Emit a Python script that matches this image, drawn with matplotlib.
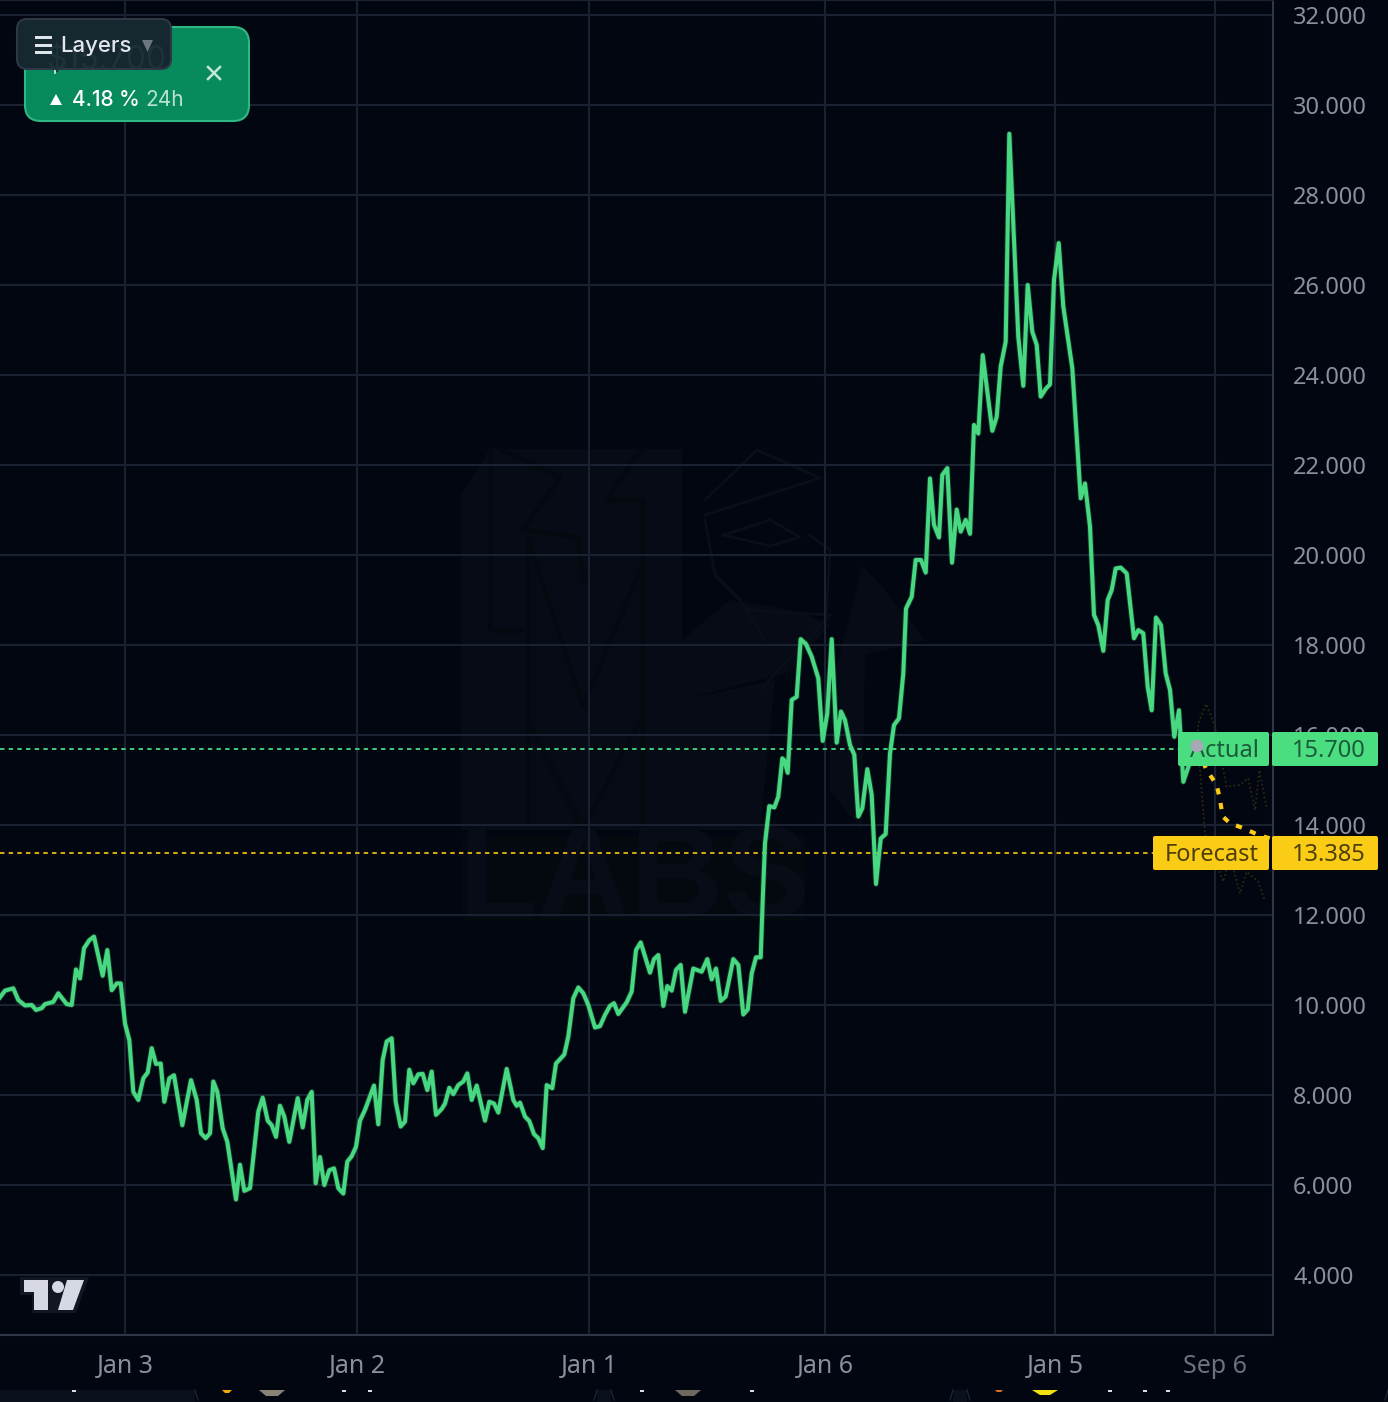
import matplotlib
matplotlib.use("Agg")
import matplotlib.pyplot as plt
from matplotlib.patches import FancyBboxPatch, Polygon, Circle, Rectangle
from matplotlib.ticker import FuncFormatter

# --- 1. DATA ---
# time axis is in chart bars, prices are in thousands
bars_left = [0, 5, 13.3, 18.3, 25, 31.7, 36, 41.7, 45, 53.3, 58.3, 66.7, 71.7, 76, 80, 84, 89.3, 94, 102.7, 107.3,
             111.7, 116.7, 120.7, 125, 129.3, 133.3, 138.3, 143.3, 147.7, 151.7, 156, 160.7, 164.3, 169.3, 174, 182.3,
             191, 196.7, 201, 205.7, 210, 213.3, 217.3, 222.7, 227.3, 236, 240, 244.3, 250, 258.3, 262.7, 267.7, 271.7,
             276, 280, 284.3, 289.3, 297.7, 302.7, 307.3, 311.7, 315.7, 320, 324.3, 329.3, 334, 338.3, 343.3, 347.3,
             351.7, 356, 360, 365, 374, 378.3, 382.7, 386.7]
price_left = [10.17, 10.32, 10.37, 10.11, 9.99, 10.00, 9.89, 9.93, 10.02, 10.07, 10.26, 10.02, 10.00, 10.79, 10.59,
              11.26, 11.44, 11.52, 10.65, 11.22, 10.33, 10.48, 10.48, 9.59, 9.22, 8.07, 7.89, 8.37, 8.50, 9.04, 8.69,
              8.70, 7.85, 8.37, 8.44, 7.33, 8.33, 7.89, 7.15, 7.04, 7.15, 8.30, 8.07, 7.26, 6.96, 5.68, 6.45, 5.87,
              5.93, 7.63, 7.94, 7.43, 7.33, 7.07, 7.76, 7.52, 6.96, 7.93, 7.28, 7.89, 8.07, 6.04, 6.62, 6.00, 6.33,
              6.37, 5.93, 5.81, 6.52, 6.64, 6.85, 7.43, 7.67, 8.21, 7.35, 8.78, 9.19]

bars_mid = [391.7, 395.7, 400.7, 405, 409.3, 413.3, 418.3, 422.7, 427.3, 431.7, 436, 441.7, 445, 449.3, 453.3, 458.3,
            463.3, 467.3, 471.7, 476.7, 485, 489.3, 494, 498.3, 506.7, 513.3, 516.7, 520, 525, 529.3, 534, 538.3, 542.7,
            546.7, 552.3, 556, 564.3, 568.3, 573.3, 578.3, 583.3, 588.3, 595, 600, 605, 610, 614, 618.3, 626.7, 631.7,
            636, 640.7, 650, 654, 658.3, 663.3, 667.3, 671.7, 676, 680.7, 685, 693.3, 701.7, 707.3, 711.7, 716, 720.7,
            725.7, 733.3, 738.3, 743.3, 747.7, 751.7, 756, 760.7]
price_mid = [9.26, 7.85, 7.30, 7.41, 8.56, 8.26, 8.46, 8.47, 8.11, 8.52, 7.56, 7.69, 7.81, 8.16, 8.02, 8.22, 8.30, 8.48,
             7.89, 8.21, 7.43, 7.85, 7.81, 7.61, 8.58, 7.89, 7.76, 7.83, 7.52, 7.42, 7.13, 7.04, 6.82, 8.22, 8.15, 8.70,
             8.90, 9.30, 10.15, 10.39, 10.26, 10.00, 9.50, 9.53, 9.78, 9.98, 10.04, 9.80, 10.06, 10.30, 11.22, 11.39,
             10.72, 11.02, 11.11, 9.98, 10.42, 10.32, 10.78, 10.89, 9.85, 10.81, 10.74, 11.02, 10.57, 10.81, 10.09,
             10.19, 11.02, 10.89, 9.79, 9.90, 10.70, 11.06, 11.06]

bars_rally = [762.7, 765, 769.3, 774.3, 778.3, 782.3, 784.3, 787.7, 791.7, 796.7, 800.7, 806, 811.7, 818.3, 822.7,
              827.3, 831.7, 836.7, 841, 845, 850, 854.3, 858.3, 862.3, 867.3, 871.7, 876, 880.7, 885.7, 890, 894, 899,
              903.3, 906, 911.7, 915.7, 921, 925.7, 930, 934, 939, 942.3, 947.3, 952, 956.7, 960.7, 965.7, 970, 974]
price_rally = [12.33, 13.59, 14.42, 14.39, 14.63, 15.48, 15.44, 15.16, 16.78, 16.85, 18.13, 18.02, 17.74, 17.26, 15.87,
               16.48, 18.13, 15.83, 16.52, 16.33, 15.78, 15.56, 14.19, 14.37, 15.24, 14.67, 12.69, 13.70, 13.80, 15.59,
               16.22, 16.37, 17.37, 18.81, 19.07, 19.89, 19.89, 19.61, 21.70, 20.67, 20.39, 21.78, 21.93, 19.83, 21.01,
               20.52, 20.78, 20.47, 22.89]

bars_top = [978.3, 982.7, 992.3, 996.7, 1000.7, 1005.7, 1009.3, 1018.3, 1023.3, 1027.7, 1032.3, 1036.7, 1040.7, 1046,
            1050, 1054, 1058.7, 1063.3, 1072.3, 1080.7, 1085]
price_top = [22.70, 24.44, 22.76, 23.07, 24.19, 24.74, 29.36, 24.85, 23.76, 26.00, 24.96, 24.67, 23.52, 23.70, 23.79,
             26.11, 26.93, 25.52, 24.15, 21.26, 21.59]

bars_fall = [1090, 1094, 1098.3, 1103.3, 1107.7, 1111.7, 1115.7, 1120.7, 1126.7, 1134, 1138.3, 1143.3, 1147.7, 1151.7,
             1156, 1161, 1165.7, 1170, 1174.3, 1179, 1183.3, 1190, 1197]
price_fall = [20.63, 18.67, 18.44, 17.87, 19.00, 19.22, 19.70, 19.72, 19.59, 18.15, 18.33, 18.26, 17.07, 16.55, 18.61,
              18.44, 17.37, 17.00, 15.96, 16.55, 14.96, 15.40, 15.70]

bars_forecast = [1197, 1206.7, 1216.7, 1220, 1222.7, 1230, 1243.3, 1258.3, 1270]
price_forecast = [15.70, 15.22, 14.89, 14.56, 14.19, 14.04, 13.93, 13.78, 13.70]

bars_upper = [1197, 1198.3, 1206, 1215, 1220, 1226.7, 1240, 1248.3, 1255, 1259.3, 1266.7]
price_upper = [15.70, 16.26, 16.69, 16.19, 15.59, 14.85, 14.89, 15.04, 14.33, 15.22, 14.37]
bars_lower = [1197, 1200, 1205, 1213.3, 1223.3, 1230, 1240, 1246.7, 1258.3, 1265]
price_lower = [15.70, 15.22, 13.81, 13.30, 12.74, 13.30, 12.48, 12.96, 12.74, 12.30]

actual_level = 15.700
forecast_level = 13.385

y_ticks = [4, 6, 8, 10, 12, 14, 16, 18, 20, 22, 24, 26, 28, 30, 32]
x_tick_bars = [125, 357, 589, 825, 1055, 1215]
x_tick_labels = ["Jan 3", "Jan 2", "Jan 1", "Jan 6", "Jan 5", "Sep 6"]

# --- 2. COLOURS AND FIGURE ---
BG = "#020611"
GRID = "#1a2130"
AXIS = "#2f3747"
GREEN = "#4ade80"
YELLOW = "#facc15"
TICK = "#8b8f9d"
FONT = "Noto Sans"

W, H = 1388, 1402
fig = plt.figure(figsize=(W / 100, H / 100), dpi=100, facecolor=BG)
plot_w, plot_b = 1273, 1335

# background layer for the watermark, pixel coordinates
bg_ax = fig.add_axes([0, 0, 1, 1], zorder=0)
bg_ax.set_xlim(0, W)
bg_ax.set_ylim(H, 0)
bg_ax.axis("off")

WM = "#070b15"
WM_CUT = "#04080f"
WM_LINE = "#0a0e18"
wm_fill = [
    [(461, 495), (490, 449), (682, 449), (682, 830), (461, 830)],
    [(682, 640), (730, 600), (800, 612), (830, 625), (790, 672), (682, 700)],
    [(682, 700), (775, 680), (760, 830), (682, 830)],
    [(830, 695), (862, 565), (885, 590), (925, 640), (865, 655), (862, 830), (830, 790)],
]
for pts in wm_fill:
    bg_ax.add_patch(Polygon(pts, closed=True, fc=WM, ec="none"))
wm_dark = [
    [(490, 450), (490, 630), (522, 630)],
    [(503, 450), (560, 477), (523, 530), (578, 537), (583, 580)],
    [(528, 538), (528, 823)],
    [(640, 450), (607, 500), (643, 500), (643, 827)],
    [(528, 538), (583, 707), (640, 570)],
    [(528, 720), (583, 830), (640, 720)],
]
for pts in wm_dark:
    bg_ax.plot([p[0] for p in pts], [p[1] for p in pts], color=WM_CUT, lw=3.5)
wm_lines = [
    [(705, 500), (757, 450), (820, 478), (705, 515)],
    [(723, 535), (770, 520), (800, 537), (770, 546), (723, 535)],
    [(705, 520), (715, 575), (740, 600), (765, 640)],
    [(810, 535), (830, 550), (826, 620)],
    [(745, 610), (830, 615), (760, 690)],
]
for pts in wm_lines:
    bg_ax.plot([p[0] for p in pts], [p[1] for p in pts], color=WM_LINE, lw=2)
bg_ax.add_patch(Rectangle((462, 835), 343, 85, fc="#04080f", ec="none"))
bg_ax.text(634, 884, "LABS", color="#080c16", fontsize=93, family="Liberation Sans", ha="center",
           va="center", fontweight="bold")

# --- 3. MAIN CHART ---
ax = fig.add_axes([0, 1 - plot_b / H, plot_w / W, plot_b / H], zorder=1)
ax.patch.set_alpha(0)
ax.set_xlim(0, plot_w)
ax.set_ylim(2667, 32333)

ax.set_yticks([v * 1000 for v in y_ticks])
ax.yaxis.set_major_formatter(FuncFormatter(lambda v, pos: f"{v / 1000:.3f}"))
ax.yaxis.tick_right()
ax.set_xticks(x_tick_bars)
ax.set_xticklabels(x_tick_labels)
ax.tick_params(axis="y", length=0, labelcolor=TICK, labelsize=17, pad=14.5)
ax.tick_params(axis="x", length=0, labelcolor=TICK, labelsize=18, pad=13.5)
for lab in ax.get_xticklabels() + ax.get_yticklabels():
    lab.set_family(FONT)
ax.get_xticklabels()[-1].set_color("#6c7080")
ax.grid(True, color=GRID, linewidth=1.5)
ax.set_axisbelow(True)
ax.spines["left"].set_visible(False)
for side in ["right", "bottom"]:
    ax.spines[side].set_color(AXIS)
    ax.spines[side].set_linewidth(1.5)
ax.spines["top"].set_color(GRID)
ax.spines["top"].set_linewidth(1.5)

bars = bars_left + bars_mid + bars_rally + bars_top + bars_fall
price = [p * 1000 for p in price_left + price_mid + price_rally + price_top + price_fall]

ax.axhline(actual_level * 1000, color="#3fc47a", lw=1.45, ls=(0, (2.2, 2.1)), zorder=2)
ax.axhline(forecast_level * 1000, color="#d4a80f", lw=1.45, ls=(0, (2.2, 2.1)), zorder=2)

ax.plot(bars_upper, [p * 1000 for p in price_upper], color="#2c2812", lw=1.3, ls=(0, (1, 1.4)), zorder=2)
ax.plot(bars_lower, [p * 1000 for p in price_lower], color="#2c2812", lw=1.3, ls=(0, (1, 1.4)), zorder=2)
# soft edge under the price line
ax.plot(bars, price, color=GREEN, lw=4.2, alpha=0.22, solid_joinstyle="round", zorder=3)
ax.plot(bars, price, color="#48d882", lw=2.9, solid_joinstyle="round", zorder=3)
ax.plot(bars_forecast, [p * 1000 for p in price_forecast], color=YELLOW, lw=3, ls=(0, (1.5, 2.1)), zorder=3)

# --- 4. OVERLAYS (labels, badge, logo), pixel coordinates ---
ui = fig.add_axes([0, 0, 1, 1], zorder=3)
ui.patch.set_alpha(0)
ui.set_xlim(0, W)
ui.set_ylim(H, 0)
ui.axis("off")


def round_box(x0, y0, x1, y1, r, fc, ec="none", lw=0, alpha=None, z=5):
    p = FancyBboxPatch((x0 + r, y0 + r), x1 - x0 - 2 * r, y1 - y0 - 2 * r, boxstyle=f"round,pad={r},rounding_size={r}",
                       fc=fc, ec=ec, lw=lw, alpha=alpha, zorder=z)
    ui.add_patch(p)
    return p


# price labels on the right
round_box(1178, 732, 1269, 766, 2, GREEN)
round_box(1272, 732, 1378, 766, 2, GREEN)
round_box(1153, 836, 1269, 870, 2, YELLOW)
round_box(1272, 836, 1378, 870, 2, YELLOW)
ui.text(1224, 751, "Actual", color="#1d5a3a", fontsize=17, family=FONT, ha="center", va="center", zorder=6)
ui.text(1329, 751, "15.700", color="#1d5a3a", fontsize=17, family=FONT, ha="center", va="center", zorder=6)
ui.text(1212, 855, "Forecast", color="#4d3f0a", fontsize=17, family=FONT, ha="center", va="center", zorder=6)
ui.text(1329, 855, "13.385", color="#4d3f0a", fontsize=17, family=FONT, ha="center", va="center", zorder=6)
ui.add_patch(Circle((1197, 746), 6.5, fc="#a6a9b6", ec="none", zorder=7))

# price badge with the layers button over it
round_box(25, 27, 249, 121, 16, "#078a5c", ec="#2fb883", lw=1.5)
ui.add_patch(Polygon([(50, 105), (62, 105), (56, 94)], closed=True, fc="white", ec="none", zorder=6))
ui.text(72, 100, "4.18 %", color="white", fontsize=15, family="Inter", fontweight="medium", ha="left", va="center",
        zorder=6)
ui.text(145, 100, "24h", color="#b7e2d0", fontsize=15, family="Inter", ha="left", va="center", zorder=6)
ui.plot([208, 220], [67, 79], color="#c5e8da", lw=1.8, zorder=6)
ui.plot([208, 220], [79, 67], color="#c5e8da", lw=1.8, zorder=6)
ui.plot([55, 55], [69, 73], color="#d9efe6", lw=1.2, zorder=6)

layers_box = round_box(17, 19, 171, 69, 10, "#15272f", ec="#2d3748", lw=1.5, z=7)
ghost = ui.text(106, 60, "$15.700", color="#1f3239", fontsize=23, family="Inter", ha="center", va="center", zorder=7.5)
ghost.set_clip_path(layers_box)
for yy in [37, 45, 52]:
    ui.add_patch(Rectangle((35, yy - 1.5), 17, 3, fc="#dfe3ea", ec="none", zorder=8))
ui.text(60, 46, "Layers", color="#e3e6ec", fontsize=16, family="Inter", fontweight="medium", ha="left", va="center",
        zorder=8)
ui.add_patch(Polygon([(142, 40), (153, 40), (147.5, 52)], closed=True, fc="#6d7482", ec="none", zorder=8))

# TradingView logo
ui.add_patch(Polygon([(20, 1277), (89, 1277), (76, 1313), (32, 1313), (32, 1295), (20, 1295)], closed=True,
                     fc="#111622", ec="none", zorder=5))
ui.add_patch(Polygon([(24, 1280), (48, 1280), (48, 1310), (34, 1310), (34, 1292), (24, 1292)], closed=True,
                     fc="#d6d9e4", ec="none", zorder=6))
ui.add_patch(Circle((58, 1287), 6, fc="#d6d9e4", ec="none", zorder=6))
ui.add_patch(Polygon([(67, 1280), (84, 1280), (73, 1310), (58, 1310)], closed=True, fc="#d6d9e4", ec="none", zorder=6))

# strip of the page under the chart
ui.add_patch(Rectangle((0, 1390), W, 12, fc="#0b101d", ec="none", zorder=4))
for x0, x1 in [(195, 597), (611, 953), (967, 1388)]:
    ui.add_patch(Rectangle((x0, 1390), x1 - x0, 12, fc=BG, ec="none", zorder=4))
    ui.plot([x0, x0 + 3], [1390, 1400], color="#1c2333", lw=1, zorder=5)
    ui.plot([x1, x1 - 3], [1390, 1400], color="#1c2333", lw=1, zorder=5)
for cx, col in [(272, "#8b8276"), (688, "#6e685e")]:
    ui.add_patch(Polygon([(cx - 13, 1390), (cx + 13, 1390), (cx + 6, 1396), (cx - 6, 1396)], closed=True, fc=col,
                         ec="none", zorder=5))
ui.add_patch(Polygon([(1032, 1390), (1058, 1390), (1050, 1395), (1040, 1395)], closed=True, fc="#f2e10f", ec="none",
                     zorder=5))
ui.add_patch(Polygon([(222, 1390), (232, 1390), (229, 1393), (225, 1393)], closed=True, fc="#f0a90c", ec="none",
                     zorder=5))
ui.add_patch(Polygon([(995, 1390), (1003, 1390), (1001, 1392), (997, 1392)], closed=True, fc="#e0701a", ec="none",
                     zorder=5))
for sx in [74, 344, 370, 642, 752, 1110, 1145, 1168]:
    ui.add_patch(Rectangle((sx - 2, 1390), 4, 2, fc="#d8dbe2", ec="none", zorder=5))

fig.savefig("out.png", dpi=100, facecolor=BG)
